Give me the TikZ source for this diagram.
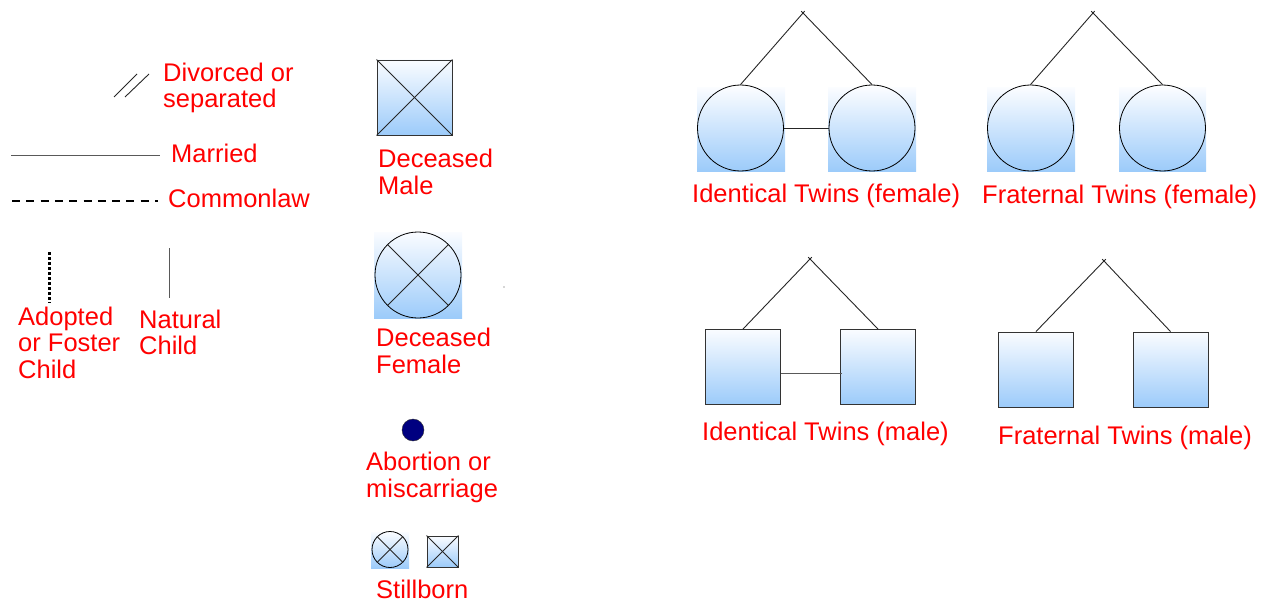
\documentclass[tikz,border=0pt]{standalone}
\usepackage{fontspec}
\setmainfont{Liberation Sans}
\usetikzlibrary{calc}
\definecolor{gbot}{RGB}{156,203,250}
\definecolor{gtop}{RGB}{250,252,255}
\definecolor{navyfill}{RGB}{0,0,128}
\begin{document}
\begin{tikzpicture}[x=1pt,y=-1pt,
  lbl/.style={font=\fontsize{25.5}{26.5}\selectfont, text=red, inner sep=0pt, align=left, anchor=base west},
  lbc/.style={font=\fontsize{25.5}{26.5}\selectfont, text=red, inner sep=0pt, anchor=base west},
  gsq/.style={rectangle, draw=black!80, line width=0.9pt, top color=gtop, bottom color=gbot, minimum size=#1, inner sep=0pt},
  gci/.style={circle, draw=black, line width=0.8pt, minimum size=#1, inner sep=0pt},
  ln/.style={draw=black!85, line width=0.9pt},
]
\useasboundingbox (0,0) rectangle (1270,602);

% ---------- left column: line legend ----------
\coordinate (d1a) at (114,97); \coordinate (d1b) at (137,74);
\coordinate (d2a) at (125,97); \coordinate (d2b) at (149,74);
\draw[ln] (d1a) -- (d1b);
\draw[ln] (d2a) -- (d2b);
\node[lbl] (tdiv) at (163,107.5) {Divorced or\\separated};

\coordinate (m1) at (11,155); \coordinate (m2) at (160,155);
\draw[draw=black!65, line width=1pt] (m1) -- (m2);
\node[lbc] (tmar) at (171,162) {Married};

\coordinate (c1) at (12,201); \coordinate (c2) at (158,201);
\draw[line width=1.3pt, dash pattern=on 8pt off 6.3pt] (c1) -- (c2);
\node[lbc] (tcom) at (168,207) {Commonlaw};

\coordinate (a1) at (49,252); \coordinate (a2) at (49,303);
\draw[line width=3pt, dash pattern=on 3pt off 2pt] (a1) -- (a2);
\node[lbl] (tado) at (18,378) {Adopted\\or Foster\\Child};

\coordinate (n1) at (169,248); \coordinate (n2) at (169,298);
\draw[draw=black!65, line width=1pt] (n1) -- (n2);
\node[lbl] (tnat) at (139,354.5) {Natural\\Child};

% ---------- middle column ----------
\node[gsq=75pt] (dm) at (414.5,97.5) {};
\draw[ln] (dm.north west) -- (dm.south east);
\draw[ln] (dm.north east) -- (dm.south west);
\node[lbl] (tdm) at (378,194) {Deceased\\Male};

\shade[top color=gtop, bottom color=gbot] (374,232) rectangle (462,318);
\node[gci=86pt] (df) at (418,275) {};
\draw[ln] (df.45) -- (df.225);
\draw[ln] (df.135) -- (df.315);
\node[lbl] (tdf) at (376,373) {Deceased\\Female};

\node[circle, draw=black!80, fill=navyfill, minimum size=22pt, inner sep=0pt] (ab) at (413,430) {};
\node[lbl] (tab) at (366,497) {Abortion or\\miscarriage};

\shade[top color=gtop, bottom color=gbot] (371,532) rectangle (409,568);
\node[gci=36pt] (sbf) at (390,549.5) {};
\draw[ln] (sbf.45) -- (sbf.225);
\draw[ln] (sbf.135) -- (sbf.315);
\node[gsq=31pt] (sbm) at (442.5,551.5) {};
\draw[ln] (sbm.north west) -- (sbm.south east);
\draw[ln] (sbm.north east) -- (sbm.south west);
\node[lbc] (tsb) at (376,598) {Stillborn};

\fill[black!70] (504,287) circle (0.7);

% ---------- identical twins (female) ----------
\shade[top color=gtop, bottom color=gbot] (697,88) rectangle (785,171);
\shade[top color=gtop, bottom color=gbot] (828,88) rectangle (916,171);
\node[gci=86pt] (if1) at (740.5,128) {};
\node[gci=86pt] (if2) at (872,128) {};
\coordinate (ifa) at (803,13);
\draw[ln] (if1.north) -- ($(ifa)!-2.5pt!(if1.north)$);
\draw[ln] (if2.north) -- ($(ifa)!-2.5pt!(if2.north)$);
\draw[ln] (if1.east) -- (if2.west);
\node[lbc] (tif) at (692,202) {Identical Twins (female)};

% ---------- fraternal twins (female) ----------
\shade[top color=gtop, bottom color=gbot] (987,88) rectangle (1075,171);
\shade[top color=gtop, bottom color=gbot] (1119,88) rectangle (1206,171);
\node[gci=86pt] (ff1) at (1030.5,128) {};
\node[gci=86pt] (ff2) at (1162.5,128) {};
\coordinate (ffa) at (1093,13);
\draw[ln] (ff1.north) -- ($(ffa)!-2.5pt!(ff1.north)$);
\draw[ln] (ff2.north) -- ($(ffa)!-2.5pt!(ff2.north)$);
\node[lbc] (tff) at (982,203) {Fraternal Twins (female)};

% ---------- identical twins (male) ----------
\node[gsq=75pt] (im1) at (743,367) {};
\node[gsq=75pt] (im2) at (878,367) {};
\coordinate (ima) at (810,259);
\draw[ln] (im1.north) -- ($(ima)!-2.5pt!(im1.north)$);
\draw[ln] (im2.north) -- ($(ima)!-2.5pt!(im2.north)$);
\draw[draw=black!65, line width=1pt] ([yshift=-6pt]im1.east) -- ([yshift=-6pt,xshift=2pt]im2.west);
\node[lbc] (tim) at (702,440) {Identical Twins (male)};

% ---------- fraternal twins (male) ----------
\node[gsq=75pt] (fm1) at (1036,369.5) {};
\node[gsq=75pt] (fm2) at (1170.5,369.5) {};
\coordinate (fma) at (1104,261);
\draw[ln] (fm1.north) -- ($(fma)!-2.5pt!(fm1.north)$);
\draw[ln] (fm2.north) -- ($(fma)!-2.5pt!(fm2.north)$);
\node[lbc] (tfm) at (998,444) {Fraternal Twins (male)};
\end{tikzpicture}
\end{document}
